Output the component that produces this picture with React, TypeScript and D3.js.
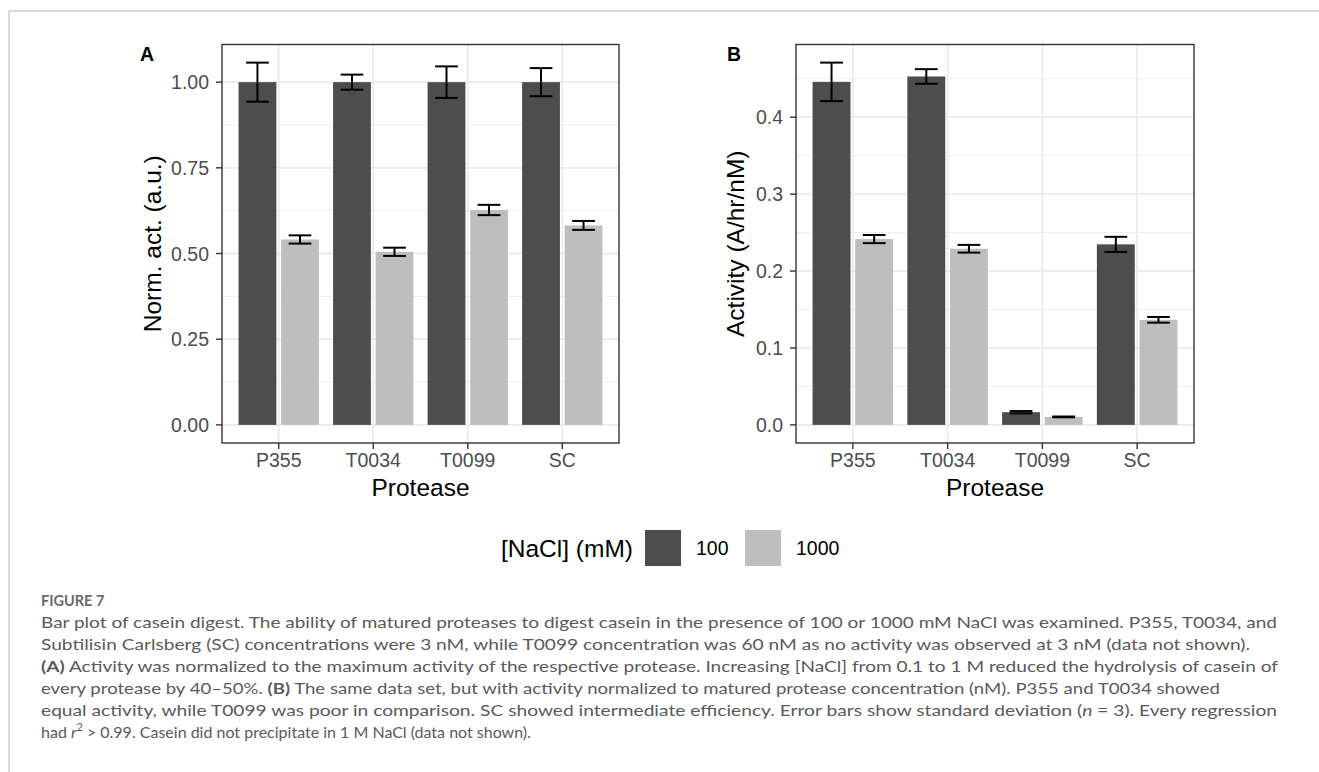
import React from "react";
import * as d3 from "d3";

const categories = ["P355", "T0034", "T0099", "SC"];
const groups = ["100", "1000"];
const groupColors = ["#4D4D4D", "#BEBEBE"];

const normMean100 = [1.0, 1.0, 1.0, 1.0];
const normSd100 = [0.057, 0.022, 0.046, 0.041];
const normMean1000 = [0.541, 0.505, 0.627, 0.582];
const normSd1000 = [0.012, 0.012, 0.015, 0.013];

const actMean100 = [0.446, 0.453, 0.0165, 0.2347];
const actSd100 = [0.025, 0.0095, 0.0015, 0.0098];
const actMean1000 = [0.2416, 0.229, 0.0104, 0.1366];
const actSd1000 = [0.0053, 0.005, 0.0005, 0.0037];

const normTicks = [0, 0.25, 0.5, 0.75, 1.0];
const actTicks = [0, 0.1, 0.2, 0.3, 0.4];

const FONT = "'Liberation Sans', Arial, Helvetica, sans-serif";

type PanelProps = {
  x0: number;
  x1: number;
  y0: number;
  y1: number;
  tag: string;
  tagX: number;
  yTitle: string;
  yTitleX: number;
  ticks: number[];
  fmt: (v: number) => string;
  means: number[][];
  sds: number[][];
};

function Panel(p: PanelProps) {
  const allTop = p.means.flatMap((m, g) => m.map((v, i) => v + p.sds[g][i]));
  const ymax = d3.max(allTop) as number;
  const pad = ymax * 0.05;
  const y = d3.scaleLinear().domain([-pad, ymax + pad]).range([p.y1, p.y0]);
  // discrete x with 0.6 expansion
  const x = d3
    .scaleLinear()
    .domain([1 - 0.6, categories.length + 0.6])
    .range([p.x0, p.x1]);
  const unit = x(2) - x(1);
  const minor: number[] = [];
  for (let i = 0; i < p.ticks.length - 1; i++) minor.push((p.ticks[i] + p.ticks[i + 1]) / 2);
  const step = p.ticks[1] - p.ticks[0];
  if (p.ticks[p.ticks.length - 1] + step / 2 < ymax + pad) minor.push(p.ticks[p.ticks.length - 1] + step / 2);
  const cx = (p.x0 + p.x1) / 2;
  const cy = (p.y0 + p.y1) / 2;
  return (
    <g>
      <rect x={p.x0} y={p.y0} width={p.x1 - p.x0} height={p.y1 - p.y0} fill="#fff" />
      {minor.map((t) => (
        <line key={"mn" + t} x1={p.x0} x2={p.x1} y1={y(t)} y2={y(t)} stroke="#EBEBEB" strokeWidth={0.9} />
      ))}
      {p.ticks.map((t) => (
        <line key={"mj" + t} x1={p.x0} x2={p.x1} y1={y(t)} y2={y(t)} stroke="#EBEBEB" strokeWidth={1.8} />
      ))}
      {categories.map((c, i) => (
        <line key={"vx" + c} x1={x(i + 1)} x2={x(i + 1)} y1={p.y0} y2={p.y1} stroke="#EBEBEB" strokeWidth={1.8} />
      ))}
      {p.means.map((m, g) =>
        m.map((v, i) => {
          const center = x(i + 1) + (g === 0 ? -0.225 : 0.225) * unit;
          const w = 0.4 * unit;
          return (
            <rect
              key={"b" + g + i}
              x={center - w / 2}
              width={w}
              y={y(v)}
              height={y(0) - y(v)}
              fill={groupColors[g]}
            />
          );
        })
      )}
      {p.means.map((m, g) =>
        m.map((v, i) => {
          const center = x(i + 1) + (g === 0 ? -0.225 : 0.225) * unit;
          const hw = 0.12 * unit;
          const top = y(v + p.sds[g][i]);
          const bot = y(v - p.sds[g][i]);
          return (
            <g key={"e" + g + i} stroke="#000" strokeWidth={2}>
              <line x1={center - hw} x2={center + hw} y1={top} y2={top} />
              <line x1={center - hw} x2={center + hw} y1={bot} y2={bot} />
              <line x1={center} x2={center} y1={top} y2={bot} />
            </g>
          );
        })
      )}
      <rect
        x={p.x0}
        y={p.y0}
        width={p.x1 - p.x0}
        height={p.y1 - p.y0}
        fill="none"
        stroke="#333333"
        strokeWidth={1.4}
      />
      {p.ticks.map((t) => (
        <g key={"yt" + t}>
          <line x1={p.x0 - 6} x2={p.x0} y1={y(t)} y2={y(t)} stroke="#333333" strokeWidth={1.4} />
          <text
            x={p.x0 - 13}
            y={y(t)}
            dy="0.36em"
            textAnchor="end"
            fontFamily={FONT}
            fontSize={19.5}
            fill="#4D4D4D"
          >
            {p.fmt(t)}
          </text>
        </g>
      ))}
      {categories.map((c, i) => (
        <g key={"xt" + c}>
          <line x1={x(i + 1)} x2={x(i + 1)} y1={p.y1} y2={p.y1 + 6} stroke="#333333" strokeWidth={1.4} />
          <text
            x={x(i + 1)}
            y={p.y1 + 24}
            textAnchor="middle"
            fontFamily={FONT}
            fontSize={19.5}
            fill="#4D4D4D"
          >
            {c}
          </text>
        </g>
      ))}
      <text x={cx} y={p.y1 + 53} textAnchor="middle" fontFamily={FONT} fontSize={24.5} fill="#000">
        Protease
      </text>
      <text
        transform={`translate(${p.yTitleX},${cy}) rotate(-90)`}
        textAnchor="middle"
        fontFamily={FONT}
        fontSize={24.5}
        fill="#000"
      >
        {p.yTitle}
      </text>
      <text x={p.tagX} y={60.5} fontFamily={FONT} fontSize={19.5} fontWeight="bold" fill="#000">
        {p.tag}
      </text>
    </g>
  );
}

const captionLines = [
  "Bar plot of casein digest. The ability of matured proteases to digest casein in the presence of 100 or 1000 mM NaCl was examined. P355, T0034, and",
  "Subtilisin Carlsberg (SC) concentrations were 3 nM, while T0099 concentration was 60 nM as no activity was observed at 3 nM (data not shown).",
];

const CAPFONT = "Lato, 'Open Sans', 'Noto Sans', sans-serif";

export default function App() {
  const fmt2 = d3.format(".2f");
  const fmt1 = d3.format(".1f");
  const capProps = { fontFamily: CAPFONT, fontSize: 16, fill: "#5A5A5A" };
  const lineY = [628, 650, 672, 694, 716, 738];
  return (
    <svg
      width={1319}
      height={772}
      style={{ position: "absolute", left: 0, top: 0, display: "block", background: "#fff" }}
    >
      <rect x={0} y={0} width={1319} height={772} fill="#fff" />
      <line x1={9} x2={1319} y1={11} y2={11} stroke="#CCCCCC" strokeWidth={1.5} />
      <line x1={9} x2={9} y1={11} y2={772} stroke="#CCCCCC" strokeWidth={1.5} />
      <Panel
        x0={222}
        x1={619}
        y0={44.5}
        y1={443}
        tag="A"
        tagX={140}
        yTitle="Norm. act. (a.u.)"
        yTitleX={160.5}
        ticks={normTicks}
        fmt={fmt2}
        means={[normMean100, normMean1000]}
        sds={[normSd100, normSd1000]}
      />
      <Panel
        x0={796}
        x1={1194}
        y0={44.5}
        y1={443}
        tag="B"
        tagX={727}
        yTitle="Activity (A/hr/nM)"
        yTitleX={744}
        ticks={actTicks}
        fmt={fmt1}
        means={[actMean100, actMean1000]}
        sds={[actSd100, actSd1000]}
      />
      {/* legend */}
      <text x={633} y={557} textAnchor="end" fontFamily={FONT} fontSize={24.5} fill="#000">
        [NaCl] (mM)
      </text>
      {groups.map((g, i) => (
        <g key={"lg" + g}>
          <rect x={645 + i * 100} y={530} width={36} height={36} fill={groupColors[i]} />
          <text x={696 + i * 100} y={555} fontFamily={FONT} fontSize={19.5} fill="#000">
            {g}
          </text>
        </g>
      ))}
      {/* caption */}
      <text x={41} y={606} fontFamily={CAPFONT} fontSize={14.5} fontWeight="bold" fill="#6A6A6A">
        FIGURE 7
      </text>
      <text x={41} y={lineY[0]} {...capProps} textLength={1236} lengthAdjust="spacingAndGlyphs">
        {captionLines[0]}
      </text>
      <text x={41} y={lineY[1]} {...capProps} textLength={1209} lengthAdjust="spacingAndGlyphs">
        {captionLines[1]}
      </text>
      <text x={41} y={lineY[2]} {...capProps} textLength={1237} lengthAdjust="spacingAndGlyphs">
        <tspan fontWeight="bold">(A)</tspan> Activity was normalized to the maximum activity of the respective
        protease. Increasing [NaCl] from 0.1 to 1 M reduced the hydrolysis of casein of
      </text>
      <text x={41} y={lineY[3]} {...capProps} textLength={1179} lengthAdjust="spacingAndGlyphs">
        every protease by 40–50%. <tspan fontWeight="bold">(B)</tspan> The same data set, but with activity
        normalized to matured protease concentration (nM). P355 and T0034 showed
      </text>
      <text x={41} y={lineY[4]} {...capProps} textLength={1236} lengthAdjust="spacingAndGlyphs">
        equal activity, while T0099 was poor in comparison. SC showed intermediate efficiency. Error bars show
        standard deviation (<tspan fontStyle="italic">n</tspan> = 3). Every regression
      </text>
      <text x={41} y={lineY[5]} {...capProps}>
        had <tspan fontStyle="italic">r</tspan>
        <tspan dy={-7} fontSize={11}>2</tspan>
        <tspan dy={7}> &gt; 0.99. Casein did not precipitate in 1 M NaCl (data not shown).</tspan>
      </text>
    </svg>
  );
}
